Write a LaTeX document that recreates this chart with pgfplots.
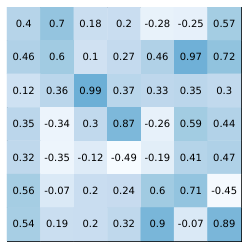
\documentclass[border=0pt]{standalone}
\usepackage{pgfplots}
\pgfplotsset{compat=1.18}
\usepackage{fontspec}
\setmainfont{DejaVu Sans}
\begin{document}
\begin{tikzpicture}
\begin{axis}[
  width=234bp, height=234bp, scale only axis,
  xmin=-0.5, xmax=6.5, ymin=-0.5, ymax=6.5,
  y dir=reverse,
  axis line style={line width=0.8pt, black},
  xtick=\empty, ytick=\empty,
  /pgf/number format/assume math mode=true,
  colormap={blues}{rgb255=(247,251,255) rgb255=(222,235,247) rgb255=(198,219,239) rgb255=(158,202,225) rgb255=(107,174,214) rgb255=(66,146,198) rgb255=(33,113,181) rgb255=(8,81,156) rgb255=(8,48,107)},
  point meta min=-0.5, point meta max=2.5,
  nodes near coords={\pgfmathprintnumber[fixed,precision=2,assume math mode=true]{\pgfplotspointmeta}},
  nodes near coords style={font=\fontsize{10}{12}\selectfont, text=black, anchor=center},
]
\addplot[matrix plot*, mesh/cols=7, point meta=explicit] table[meta=v] {
x y v
0 0 0.4
1 0 0.7
2 0 0.18
3 0 0.2
4 0 -0.28
5 0 -0.25
6 0 0.57
0 1 0.46
1 1 0.6
2 1 0.1
3 1 0.27
4 1 0.46
5 1 0.97
6 1 0.72
0 2 0.12
1 2 0.36
2 2 0.99
3 2 0.37
4 2 0.33
5 2 0.35
6 2 0.3
0 3 0.35
1 3 -0.34
2 3 0.3
3 3 0.87
4 3 -0.26
5 3 0.59
6 3 0.44
0 4 0.32
1 4 -0.35
2 4 -0.12
3 4 -0.49
4 4 -0.19
5 4 0.41
6 4 0.47
0 5 0.56
1 5 -0.07
2 5 0.2
3 5 0.24
4 5 0.6
5 5 0.71
6 5 -0.45
0 6 0.54
1 6 0.19
2 6 0.2
3 6 0.32
4 6 0.9
5 6 -0.07
6 6 0.89
};
\end{axis}
\path ([shift={(-7bp,-8bp)}]current axis.south west) rectangle ([shift={(8bp,7bp)}]current axis.north east);
\end{tikzpicture}
\end{document}
